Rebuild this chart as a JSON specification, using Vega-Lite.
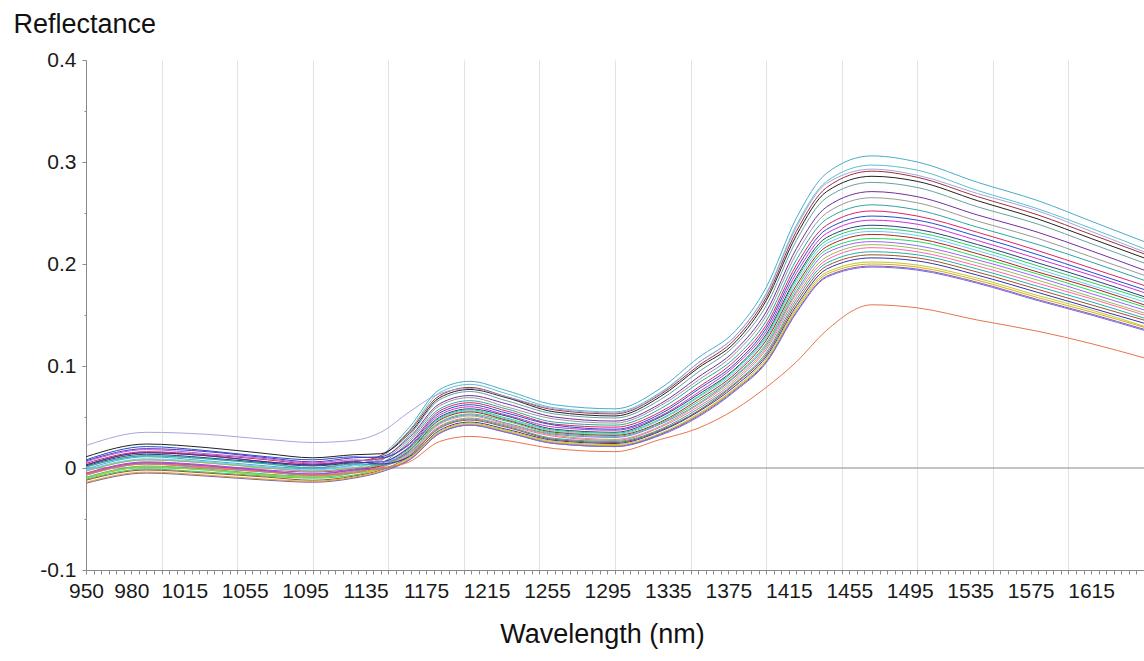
{
"$schema": "https://vega.github.io/schema/vega-lite/v6.json",
"width": 1058, "height": 510,
"autosize": {"type": "none"},
"padding": {"left": 86, "top": 60, "right": 0, "bottom": 91},
"background": "white",
"config": {"view": {"stroke": null}, "font": "Liberation Sans"},
"layer": [
{"data": {"values": [{"r": 0}]},
 "mark": {"type": "rule", "color": "#8a8a8a", "strokeWidth": 1},
 "encoding": {"y": {"field": "r", "type": "quantitative", "scale": {"domain": [-0.1, 0.4], "nice": false, "zero": false}}}},
{"data": {"values": [
{"s":1,"w":950,"r":-0.001},{"s":1,"w":990,"r":0.011},{"s":1,"w":1030,"r":0.007},{"s":1,"w":1070,"r":0.002},{"s":1,"w":1100,"r":-0.001},{"s":1,"w":1127,"r":0.003},{"s":1,"w":1145,"r":0.012},{"s":1,"w":1164,"r":0.040},{"s":1,"w":1184,"r":0.077},{"s":1,"w":1204,"r":0.085},{"s":1,"w":1228,"r":0.076},{"s":1,"w":1260,"r":0.062},{"s":1,"w":1300,"r":0.058},{"s":1,"w":1330,"r":0.078},{"s":1,"w":1355,"r":0.108},{"s":1,"w":1380,"r":0.135},{"s":1,"w":1400,"r":0.177},{"s":1,"w":1420,"r":0.245},{"s":1,"w":1440,"r":0.289},{"s":1,"w":1470,"r":0.306},{"s":1,"w":1500,"r":0.300},{"s":1,"w":1540,"r":0.280},{"s":1,"w":1580,"r":0.262},{"s":1,"w":1615,"r":0.242},{"s":1,"w":1650,"r":0.222},
{"s":2,"w":950,"r":-0.003},{"s":2,"w":990,"r":0.008},{"s":2,"w":1030,"r":0.005},{"s":2,"w":1070,"r":0.000},{"s":2,"w":1100,"r":-0.003},{"s":2,"w":1127,"r":0.000},{"s":2,"w":1145,"r":0.010},{"s":2,"w":1164,"r":0.037},{"s":2,"w":1184,"r":0.074},{"s":2,"w":1204,"r":0.082},{"s":2,"w":1228,"r":0.073},{"s":2,"w":1260,"r":0.059},{"s":2,"w":1300,"r":0.055},{"s":2,"w":1330,"r":0.074},{"s":2,"w":1355,"r":0.103},{"s":2,"w":1380,"r":0.130},{"s":2,"w":1400,"r":0.171},{"s":2,"w":1420,"r":0.238},{"s":2,"w":1440,"r":0.281},{"s":2,"w":1470,"r":0.297},{"s":2,"w":1500,"r":0.292},{"s":2,"w":1540,"r":0.272},{"s":2,"w":1580,"r":0.254},{"s":2,"w":1615,"r":0.235},{"s":2,"w":1650,"r":0.215},
{"s":3,"w":950,"r":0.003},{"s":3,"w":990,"r":0.015},{"s":3,"w":1030,"r":0.012},{"s":3,"w":1070,"r":0.006},{"s":3,"w":1100,"r":0.003},{"s":3,"w":1127,"r":0.006},{"s":3,"w":1145,"r":0.012},{"s":3,"w":1164,"r":0.036},{"s":3,"w":1184,"r":0.071},{"s":3,"w":1204,"r":0.079},{"s":3,"w":1228,"r":0.070},{"s":3,"w":1260,"r":0.057},{"s":3,"w":1300,"r":0.053},{"s":3,"w":1330,"r":0.072},{"s":3,"w":1355,"r":0.100},{"s":3,"w":1380,"r":0.127},{"s":3,"w":1400,"r":0.167},{"s":3,"w":1420,"r":0.232},{"s":3,"w":1440,"r":0.275},{"s":3,"w":1470,"r":0.291},{"s":3,"w":1500,"r":0.285},{"s":3,"w":1540,"r":0.266},{"s":3,"w":1580,"r":0.248},{"s":3,"w":1615,"r":0.229},{"s":3,"w":1650,"r":0.210},
{"s":4,"w":950,"r":0.011},{"s":4,"w":990,"r":0.0235},{"s":4,"w":1030,"r":0.020},{"s":4,"w":1070,"r":0.014},{"s":4,"w":1100,"r":0.010},{"s":4,"w":1127,"r":0.013},{"s":4,"w":1145,"r":0.014},{"s":4,"w":1164,"r":0.034},{"s":4,"w":1184,"r":0.069},{"s":4,"w":1204,"r":0.077},{"s":4,"w":1228,"r":0.069},{"s":4,"w":1260,"r":0.055},{"s":4,"w":1300,"r":0.051},{"s":4,"w":1330,"r":0.070},{"s":4,"w":1355,"r":0.098},{"s":4,"w":1380,"r":0.124},{"s":4,"w":1400,"r":0.164},{"s":4,"w":1420,"r":0.228},{"s":4,"w":1440,"r":0.271},{"s":4,"w":1470,"r":0.286},{"s":4,"w":1500,"r":0.281},{"s":4,"w":1540,"r":0.262},{"s":4,"w":1580,"r":0.244},{"s":4,"w":1615,"r":0.225},{"s":4,"w":1650,"r":0.206},
{"s":5,"w":950,"r":-0.007},{"s":5,"w":990,"r":0.004},{"s":5,"w":1030,"r":0.000},{"s":5,"w":1070,"r":-0.004},{"s":5,"w":1100,"r":-0.007},{"s":5,"w":1127,"r":-0.003},{"s":5,"w":1145,"r":0.007},{"s":5,"w":1164,"r":0.032},{"s":5,"w":1184,"r":0.067},{"s":5,"w":1204,"r":0.075},{"s":5,"w":1228,"r":0.066},{"s":5,"w":1260,"r":0.053},{"s":5,"w":1300,"r":0.049},{"s":5,"w":1330,"r":0.067},{"s":5,"w":1355,"r":0.094},{"s":5,"w":1380,"r":0.121},{"s":5,"w":1400,"r":0.159},{"s":5,"w":1420,"r":0.223},{"s":5,"w":1440,"r":0.265},{"s":5,"w":1470,"r":0.280},{"s":5,"w":1500,"r":0.275},{"s":5,"w":1540,"r":0.256},{"s":5,"w":1580,"r":0.239},{"s":5,"w":1615,"r":0.220},{"s":5,"w":1650,"r":0.201},
{"s":6,"w":950,"r":0.007},{"s":6,"w":990,"r":0.019},{"s":6,"w":1030,"r":0.016},{"s":6,"w":1070,"r":0.010},{"s":6,"w":1100,"r":0.006},{"s":6,"w":1127,"r":0.010},{"s":6,"w":1145,"r":0.011},{"s":6,"w":1164,"r":0.030},{"s":6,"w":1184,"r":0.063},{"s":6,"w":1204,"r":0.071},{"s":6,"w":1228,"r":0.063},{"s":6,"w":1260,"r":0.050},{"s":6,"w":1300,"r":0.046},{"s":6,"w":1330,"r":0.063},{"s":6,"w":1355,"r":0.089},{"s":6,"w":1380,"r":0.116},{"s":6,"w":1400,"r":0.153},{"s":6,"w":1420,"r":0.215},{"s":6,"w":1440,"r":0.256},{"s":6,"w":1470,"r":0.271},{"s":6,"w":1500,"r":0.266},{"s":6,"w":1540,"r":0.248},{"s":6,"w":1580,"r":0.231},{"s":6,"w":1615,"r":0.213},{"s":6,"w":1650,"r":0.194},
{"s":7,"w":950,"r":0.001},{"s":7,"w":990,"r":0.012},{"s":7,"w":1030,"r":0.009},{"s":7,"w":1070,"r":0.004},{"s":7,"w":1100,"r":0.000},{"s":7,"w":1127,"r":0.004},{"s":7,"w":1145,"r":0.008},{"s":7,"w":1164,"r":0.028},{"s":7,"w":1184,"r":0.061},{"s":7,"w":1204,"r":0.069},{"s":7,"w":1228,"r":0.060},{"s":7,"w":1260,"r":0.048},{"s":7,"w":1300,"r":0.044},{"s":7,"w":1330,"r":0.061},{"s":7,"w":1355,"r":0.086},{"s":7,"w":1380,"r":0.113},{"s":7,"w":1400,"r":0.149},{"s":7,"w":1420,"r":0.210},{"s":7,"w":1440,"r":0.250},{"s":7,"w":1470,"r":0.265},{"s":7,"w":1500,"r":0.260},{"s":7,"w":1540,"r":0.242},{"s":7,"w":1580,"r":0.225},{"s":7,"w":1615,"r":0.207},{"s":7,"w":1650,"r":0.189},
{"s":8,"w":950,"r":-0.010},{"s":8,"w":990,"r":0.001},{"s":8,"w":1030,"r":-0.002},{"s":8,"w":1070,"r":-0.007},{"s":8,"w":1100,"r":-0.009},{"s":8,"w":1127,"r":-0.005},{"s":8,"w":1145,"r":0.004},{"s":8,"w":1164,"r":0.026},{"s":8,"w":1184,"r":0.058},{"s":8,"w":1204,"r":0.066},{"s":8,"w":1228,"r":0.058},{"s":8,"w":1260,"r":0.045},{"s":8,"w":1300,"r":0.042},{"s":8,"w":1330,"r":0.058},{"s":8,"w":1355,"r":0.083},{"s":8,"w":1380,"r":0.109},{"s":8,"w":1400,"r":0.144},{"s":8,"w":1420,"r":0.204},{"s":8,"w":1440,"r":0.244},{"s":8,"w":1470,"r":0.258},{"s":8,"w":1500,"r":0.253},{"s":8,"w":1540,"r":0.236},{"s":8,"w":1580,"r":0.219},{"s":8,"w":1615,"r":0.202},{"s":8,"w":1650,"r":0.184},
{"s":9,"w":950,"r":0.0045},{"s":9,"w":990,"r":0.016},{"s":9,"w":1030,"r":0.013},{"s":9,"w":1070,"r":0.008},{"s":9,"w":1100,"r":0.004},{"s":9,"w":1127,"r":0.007},{"s":9,"w":1145,"r":0.009},{"s":9,"w":1164,"r":0.024},{"s":9,"w":1184,"r":0.056},{"s":9,"w":1204,"r":0.064},{"s":9,"w":1228,"r":0.056},{"s":9,"w":1260,"r":0.043},{"s":9,"w":1300,"r":0.040},{"s":9,"w":1330,"r":0.055},{"s":9,"w":1355,"r":0.079},{"s":9,"w":1380,"r":0.106},{"s":9,"w":1400,"r":0.140},{"s":9,"w":1420,"r":0.199},{"s":9,"w":1440,"r":0.238},{"s":9,"w":1470,"r":0.252},{"s":9,"w":1500,"r":0.247},{"s":9,"w":1540,"r":0.231},{"s":9,"w":1580,"r":0.213},{"s":9,"w":1615,"r":0.196},{"s":9,"w":1650,"r":0.179},
{"s":10,"w":950,"r":0.008},{"s":10,"w":990,"r":0.021},{"s":10,"w":1030,"r":0.017},{"s":10,"w":1070,"r":0.011},{"s":10,"w":1100,"r":0.008},{"s":10,"w":1127,"r":0.011},{"s":10,"w":1145,"r":0.010},{"s":10,"w":1164,"r":0.023},{"s":10,"w":1184,"r":0.054},{"s":10,"w":1204,"r":0.062},{"s":10,"w":1228,"r":0.054},{"s":10,"w":1260,"r":0.042},{"s":10,"w":1300,"r":0.038},{"s":10,"w":1330,"r":0.053},{"s":10,"w":1355,"r":0.077},{"s":10,"w":1380,"r":0.103},{"s":10,"w":1400,"r":0.137},{"s":10,"w":1420,"r":0.195},{"s":10,"w":1440,"r":0.234},{"s":10,"w":1470,"r":0.247},{"s":10,"w":1500,"r":0.243},{"s":10,"w":1540,"r":0.227},{"s":10,"w":1580,"r":0.209},{"s":10,"w":1615,"r":0.192},{"s":10,"w":1650,"r":0.175},
{"s":11,"w":950,"r":-0.005},{"s":11,"w":990,"r":0.006},{"s":11,"w":1030,"r":0.003},{"s":11,"w":1070,"r":-0.002},{"s":11,"w":1100,"r":-0.004},{"s":11,"w":1127,"r":-0.001},{"s":11,"w":1145,"r":0.004},{"s":11,"w":1164,"r":0.021},{"s":11,"w":1184,"r":0.052},{"s":11,"w":1204,"r":0.060},{"s":11,"w":1228,"r":0.052},{"s":11,"w":1260,"r":0.040},{"s":11,"w":1300,"r":0.037},{"s":11,"w":1330,"r":0.051},{"s":11,"w":1355,"r":0.074},{"s":11,"w":1380,"r":0.101},{"s":11,"w":1400,"r":0.134},{"s":11,"w":1420,"r":0.191},{"s":11,"w":1440,"r":0.230},{"s":11,"w":1470,"r":0.243},{"s":11,"w":1500,"r":0.239},{"s":11,"w":1540,"r":0.223},{"s":11,"w":1580,"r":0.205},{"s":11,"w":1615,"r":0.189},{"s":11,"w":1650,"r":0.172},
{"s":12,"w":950,"r":0.002},{"s":12,"w":990,"r":0.0135},{"s":12,"w":1030,"r":0.010},{"s":12,"w":1070,"r":0.005},{"s":12,"w":1100,"r":0.002},{"s":12,"w":1127,"r":0.005},{"s":12,"w":1145,"r":0.006},{"s":12,"w":1164,"r":0.020},{"s":12,"w":1184,"r":0.050},{"s":12,"w":1204,"r":0.058},{"s":12,"w":1228,"r":0.051},{"s":12,"w":1260,"r":0.038},{"s":12,"w":1300,"r":0.035},{"s":12,"w":1330,"r":0.050},{"s":12,"w":1355,"r":0.072},{"s":12,"w":1380,"r":0.098},{"s":12,"w":1400,"r":0.131},{"s":12,"w":1420,"r":0.187},{"s":12,"w":1440,"r":0.226},{"s":12,"w":1470,"r":0.238},{"s":12,"w":1500,"r":0.234},{"s":12,"w":1540,"r":0.219},{"s":12,"w":1580,"r":0.201},{"s":12,"w":1615,"r":0.185},{"s":12,"w":1650,"r":0.168},
{"s":13,"w":950,"r":-0.009},{"s":13,"w":990,"r":0.002},{"s":13,"w":1030,"r":-0.001},{"s":13,"w":1070,"r":-0.006},{"s":13,"w":1100,"r":-0.008},{"s":13,"w":1127,"r":-0.004},{"s":13,"w":1145,"r":0.002},{"s":13,"w":1164,"r":0.019},{"s":13,"w":1184,"r":0.049},{"s":13,"w":1204,"r":0.057},{"s":13,"w":1228,"r":0.049},{"s":13,"w":1260,"r":0.037},{"s":13,"w":1300,"r":0.034},{"s":13,"w":1330,"r":0.048},{"s":13,"w":1355,"r":0.070},{"s":13,"w":1380,"r":0.097},{"s":13,"w":1400,"r":0.129},{"s":13,"w":1420,"r":0.185},{"s":13,"w":1440,"r":0.223},{"s":13,"w":1470,"r":0.235},{"s":13,"w":1500,"r":0.231},{"s":13,"w":1540,"r":0.216},{"s":13,"w":1580,"r":0.198},{"s":13,"w":1615,"r":0.182},{"s":13,"w":1650,"r":0.166},
{"s":14,"w":950,"r":-0.002},{"s":14,"w":990,"r":0.009},{"s":14,"w":1030,"r":0.006},{"s":14,"w":1070,"r":0.001},{"s":14,"w":1100,"r":-0.002},{"s":14,"w":1127,"r":0.002},{"s":14,"w":1145,"r":0.004},{"s":14,"w":1164,"r":0.018},{"s":14,"w":1184,"r":0.048},{"s":14,"w":1204,"r":0.056},{"s":14,"w":1228,"r":0.048},{"s":14,"w":1260,"r":0.036},{"s":14,"w":1300,"r":0.033},{"s":14,"w":1330,"r":0.047},{"s":14,"w":1355,"r":0.069},{"s":14,"w":1380,"r":0.095},{"s":14,"w":1400,"r":0.127},{"s":14,"w":1420,"r":0.182},{"s":14,"w":1440,"r":0.220},{"s":14,"w":1470,"r":0.232},{"s":14,"w":1500,"r":0.228},{"s":14,"w":1540,"r":0.213},{"s":14,"w":1580,"r":0.195},{"s":14,"w":1615,"r":0.179},{"s":14,"w":1650,"r":0.163},
{"s":15,"w":950,"r":-0.006},{"s":15,"w":990,"r":0.005},{"s":15,"w":1030,"r":0.002},{"s":15,"w":1070,"r":-0.003},{"s":15,"w":1100,"r":-0.006},{"s":15,"w":1127,"r":-0.002},{"s":15,"w":1145,"r":0.002},{"s":15,"w":1164,"r":0.017},{"s":15,"w":1184,"r":0.047},{"s":15,"w":1204,"r":0.055},{"s":15,"w":1228,"r":0.047},{"s":15,"w":1260,"r":0.035},{"s":15,"w":1300,"r":0.032},{"s":15,"w":1330,"r":0.045},{"s":15,"w":1355,"r":0.067},{"s":15,"w":1380,"r":0.093},{"s":15,"w":1400,"r":0.125},{"s":15,"w":1420,"r":0.179},{"s":15,"w":1440,"r":0.217},{"s":15,"w":1470,"r":0.229},{"s":15,"w":1500,"r":0.225},{"s":15,"w":1540,"r":0.210},{"s":15,"w":1580,"r":0.192},{"s":15,"w":1615,"r":0.177},{"s":15,"w":1650,"r":0.160},
{"s":16,"w":950,"r":-0.011},{"s":16,"w":990,"r":-0.001},{"s":16,"w":1030,"r":-0.004},{"s":16,"w":1070,"r":-0.008},{"s":16,"w":1100,"r":-0.010},{"s":16,"w":1127,"r":-0.007},{"s":16,"w":1145,"r":0.000},{"s":16,"w":1164,"r":0.016},{"s":16,"w":1184,"r":0.045},{"s":16,"w":1204,"r":0.053},{"s":16,"w":1228,"r":0.046},{"s":16,"w":1260,"r":0.034},{"s":16,"w":1300,"r":0.031},{"s":16,"w":1330,"r":0.044},{"s":16,"w":1355,"r":0.065},{"s":16,"w":1380,"r":0.091},{"s":16,"w":1400,"r":0.122},{"s":16,"w":1420,"r":0.176},{"s":16,"w":1440,"r":0.214},{"s":16,"w":1470,"r":0.225},{"s":16,"w":1500,"r":0.222},{"s":16,"w":1540,"r":0.207},{"s":16,"w":1580,"r":0.190},{"s":16,"w":1615,"r":0.174},{"s":16,"w":1650,"r":0.158},
{"s":17,"w":950,"r":0.006},{"s":17,"w":990,"r":0.018},{"s":17,"w":1030,"r":0.014},{"s":17,"w":1070,"r":0.009},{"s":17,"w":1100,"r":0.005},{"s":17,"w":1127,"r":0.008},{"s":17,"w":1145,"r":0.006},{"s":17,"w":1164,"r":0.015},{"s":17,"w":1184,"r":0.044},{"s":17,"w":1204,"r":0.052},{"s":17,"w":1228,"r":0.044},{"s":17,"w":1260,"r":0.033},{"s":17,"w":1300,"r":0.030},{"s":17,"w":1330,"r":0.043},{"s":17,"w":1355,"r":0.063},{"s":17,"w":1380,"r":0.090},{"s":17,"w":1400,"r":0.120},{"s":17,"w":1420,"r":0.173},{"s":17,"w":1440,"r":0.211},{"s":17,"w":1470,"r":0.222},{"s":17,"w":1500,"r":0.218},{"s":17,"w":1540,"r":0.204},{"s":17,"w":1580,"r":0.187},{"s":17,"w":1615,"r":0.171},{"s":17,"w":1650,"r":0.155},
{"s":18,"w":950,"r":-0.003},{"s":18,"w":990,"r":0.008},{"s":18,"w":1030,"r":0.005},{"s":18,"w":1070,"r":0.000},{"s":18,"w":1100,"r":-0.003},{"s":18,"w":1127,"r":0.000},{"s":18,"w":1145,"r":0.003},{"s":18,"w":1164,"r":0.014},{"s":18,"w":1184,"r":0.043},{"s":18,"w":1204,"r":0.051},{"s":18,"w":1228,"r":0.043},{"s":18,"w":1260,"r":0.032},{"s":18,"w":1300,"r":0.028},{"s":18,"w":1330,"r":0.041},{"s":18,"w":1355,"r":0.062},{"s":18,"w":1380,"r":0.088},{"s":18,"w":1400,"r":0.118},{"s":18,"w":1420,"r":0.171},{"s":18,"w":1440,"r":0.207},{"s":18,"w":1470,"r":0.219},{"s":18,"w":1500,"r":0.215},{"s":18,"w":1540,"r":0.201},{"s":18,"w":1580,"r":0.184},{"s":18,"w":1615,"r":0.168},{"s":18,"w":1650,"r":0.152},
{"s":19,"w":950,"r":-0.007},{"s":19,"w":990,"r":0.004},{"s":19,"w":1030,"r":0.000},{"s":19,"w":1070,"r":-0.004},{"s":19,"w":1100,"r":-0.007},{"s":19,"w":1127,"r":-0.003},{"s":19,"w":1145,"r":0.001},{"s":19,"w":1164,"r":0.013},{"s":19,"w":1184,"r":0.041},{"s":19,"w":1204,"r":0.049},{"s":19,"w":1228,"r":0.042},{"s":19,"w":1260,"r":0.031},{"s":19,"w":1300,"r":0.027},{"s":19,"w":1330,"r":0.040},{"s":19,"w":1355,"r":0.060},{"s":19,"w":1380,"r":0.086},{"s":19,"w":1400,"r":0.116},{"s":19,"w":1420,"r":0.168},{"s":19,"w":1440,"r":0.204},{"s":19,"w":1470,"r":0.216},{"s":19,"w":1500,"r":0.212},{"s":19,"w":1540,"r":0.198},{"s":19,"w":1580,"r":0.181},{"s":19,"w":1615,"r":0.166},{"s":19,"w":1650,"r":0.150},
{"s":20,"w":950,"r":0.001},{"s":20,"w":990,"r":0.012},{"s":20,"w":1030,"r":0.009},{"s":20,"w":1070,"r":0.004},{"s":20,"w":1100,"r":0.000},{"s":20,"w":1127,"r":0.004},{"s":20,"w":1145,"r":0.003},{"s":20,"w":1164,"r":0.012},{"s":20,"w":1184,"r":0.040},{"s":20,"w":1204,"r":0.048},{"s":20,"w":1228,"r":0.041},{"s":20,"w":1260,"r":0.029},{"s":20,"w":1300,"r":0.026},{"s":20,"w":1330,"r":0.038},{"s":20,"w":1355,"r":0.058},{"s":20,"w":1380,"r":0.084},{"s":20,"w":1400,"r":0.113},{"s":20,"w":1420,"r":0.165},{"s":20,"w":1440,"r":0.201},{"s":20,"w":1470,"r":0.212},{"s":20,"w":1500,"r":0.209},{"s":20,"w":1540,"r":0.195},{"s":20,"w":1580,"r":0.178},{"s":20,"w":1615,"r":0.163},{"s":20,"w":1650,"r":0.147},
{"s":21,"w":950,"r":-0.012},{"s":21,"w":990,"r":-0.002},{"s":21,"w":1030,"r":-0.005},{"s":21,"w":1070,"r":-0.009},{"s":21,"w":1100,"r":-0.012},{"s":21,"w":1127,"r":-0.008},{"s":21,"w":1145,"r":-0.002},{"s":21,"w":1164,"r":0.0115},{"s":21,"w":1184,"r":0.039},{"s":21,"w":1204,"r":0.047},{"s":21,"w":1228,"r":0.040},{"s":21,"w":1260,"r":0.028},{"s":21,"w":1300,"r":0.025},{"s":21,"w":1330,"r":0.037},{"s":21,"w":1355,"r":0.056},{"s":21,"w":1380,"r":0.083},{"s":21,"w":1400,"r":0.111},{"s":21,"w":1420,"r":0.162},{"s":21,"w":1440,"r":0.198},{"s":21,"w":1470,"r":0.209},{"s":21,"w":1500,"r":0.206},{"s":21,"w":1540,"r":0.192},{"s":21,"w":1580,"r":0.175},{"s":21,"w":1615,"r":0.160},{"s":21,"w":1650,"r":0.145},
{"s":22,"w":950,"r":0.003},{"s":22,"w":990,"r":0.015},{"s":22,"w":1030,"r":0.012},{"s":22,"w":1070,"r":0.006},{"s":22,"w":1100,"r":0.003},{"s":22,"w":1127,"r":0.006},{"s":22,"w":1145,"r":0.004},{"s":22,"w":1164,"r":0.011},{"s":22,"w":1184,"r":0.037},{"s":22,"w":1204,"r":0.045},{"s":22,"w":1228,"r":0.038},{"s":22,"w":1260,"r":0.027},{"s":22,"w":1300,"r":0.024},{"s":22,"w":1330,"r":0.036},{"s":22,"w":1355,"r":0.055},{"s":22,"w":1380,"r":0.081},{"s":22,"w":1400,"r":0.109},{"s":22,"w":1420,"r":0.159},{"s":22,"w":1440,"r":0.195},{"s":22,"w":1470,"r":0.206},{"s":22,"w":1500,"r":0.203},{"s":22,"w":1540,"r":0.189},{"s":22,"w":1580,"r":0.172},{"s":22,"w":1615,"r":0.157},{"s":22,"w":1650,"r":0.142},
{"s":23,"w":950,"r":-0.010},{"s":23,"w":990,"r":0.001},{"s":23,"w":1030,"r":-0.002},{"s":23,"w":1070,"r":-0.007},{"s":23,"w":1100,"r":-0.009},{"s":23,"w":1127,"r":-0.005},{"s":23,"w":1145,"r":-0.0015},{"s":23,"w":1164,"r":0.010},{"s":23,"w":1184,"r":0.036},{"s":23,"w":1204,"r":0.044},{"s":23,"w":1228,"r":0.037},{"s":23,"w":1260,"r":0.026},{"s":23,"w":1300,"r":0.023},{"s":23,"w":1330,"r":0.034},{"s":23,"w":1355,"r":0.053},{"s":23,"w":1380,"r":0.079},{"s":23,"w":1400,"r":0.107},{"s":23,"w":1420,"r":0.157},{"s":23,"w":1440,"r":0.192},{"s":23,"w":1470,"r":0.202},{"s":23,"w":1500,"r":0.199},{"s":23,"w":1540,"r":0.186},{"s":23,"w":1580,"r":0.169},{"s":23,"w":1615,"r":0.155},{"s":23,"w":1650,"r":0.139},
{"s":24,"w":950,"r":-0.014},{"s":24,"w":990,"r":-0.004},{"s":24,"w":1030,"r":-0.007},{"s":24,"w":1070,"r":-0.011},{"s":24,"w":1100,"r":-0.013},{"s":24,"w":1127,"r":-0.009},{"s":24,"w":1145,"r":-0.003},{"s":24,"w":1164,"r":0.009},{"s":24,"w":1184,"r":0.035},{"s":24,"w":1204,"r":0.043},{"s":24,"w":1228,"r":0.036},{"s":24,"w":1260,"r":0.025},{"s":24,"w":1300,"r":0.022},{"s":24,"w":1330,"r":0.033},{"s":24,"w":1355,"r":0.052},{"s":24,"w":1380,"r":0.078},{"s":24,"w":1400,"r":0.105},{"s":24,"w":1420,"r":0.155},{"s":24,"w":1440,"r":0.190},{"s":24,"w":1470,"r":0.200},{"s":24,"w":1500,"r":0.197},{"s":24,"w":1540,"r":0.184},{"s":24,"w":1580,"r":0.167},{"s":24,"w":1615,"r":0.153},{"s":24,"w":1650,"r":0.138},
{"s":25,"w":950,"r":-0.015},{"s":25,"w":990,"r":-0.005},{"s":25,"w":1030,"r":-0.008},{"s":25,"w":1070,"r":-0.012},{"s":25,"w":1100,"r":-0.014},{"s":25,"w":1127,"r":-0.010},{"s":25,"w":1145,"r":-0.004},{"s":25,"w":1164,"r":0.008},{"s":25,"w":1184,"r":0.034},{"s":25,"w":1204,"r":0.042},{"s":25,"w":1228,"r":0.035},{"s":25,"w":1260,"r":0.024},{"s":25,"w":1300,"r":0.021},{"s":25,"w":1330,"r":0.033},{"s":25,"w":1355,"r":0.051},{"s":25,"w":1380,"r":0.077},{"s":25,"w":1400,"r":0.104},{"s":25,"w":1420,"r":0.153},{"s":25,"w":1440,"r":0.188},{"s":25,"w":1470,"r":0.198},{"s":25,"w":1500,"r":0.195},{"s":25,"w":1540,"r":0.182},{"s":25,"w":1580,"r":0.165},{"s":25,"w":1615,"r":0.151},{"s":25,"w":1650,"r":0.136},
{"s":26,"w":950,"r":-0.006},{"s":26,"w":990,"r":0.005},{"s":26,"w":1030,"r":0.002},{"s":26,"w":1070,"r":-0.003},{"s":26,"w":1100,"r":-0.006},{"s":26,"w":1127,"r":-0.002},{"s":26,"w":1145,"r":-0.001},{"s":26,"w":1164,"r":0.008},{"s":26,"w":1184,"r":0.034},{"s":26,"w":1204,"r":0.042},{"s":26,"w":1228,"r":0.035},{"s":26,"w":1260,"r":0.024},{"s":26,"w":1300,"r":0.021},{"s":26,"w":1330,"r":0.032},{"s":26,"w":1355,"r":0.050},{"s":26,"w":1380,"r":0.076},{"s":26,"w":1400,"r":0.103},{"s":26,"w":1420,"r":0.152},{"s":26,"w":1440,"r":0.187},{"s":26,"w":1470,"r":0.197},{"s":26,"w":1500,"r":0.194},{"s":26,"w":1540,"r":0.181},{"s":26,"w":1580,"r":0.164},{"s":26,"w":1615,"r":0.150},{"s":26,"w":1650,"r":0.135},
{"s":27,"w":950,"r":-0.006},{"s":27,"w":990,"r":0.004},{"s":27,"w":1030,"r":0.001},{"s":27,"w":1070,"r":-0.004},{"s":27,"w":1100,"r":-0.007},{"s":27,"w":1127,"r":-0.005},{"s":27,"w":1145,"r":0.000},{"s":27,"w":1164,"r":0.006},{"s":27,"w":1184,"r":0.026},{"s":27,"w":1204,"r":0.031},{"s":27,"w":1228,"r":0.027},{"s":27,"w":1260,"r":0.019},{"s":27,"w":1300,"r":0.016},{"s":27,"w":1330,"r":0.028},{"s":27,"w":1355,"r":0.039},{"s":27,"w":1380,"r":0.058},{"s":27,"w":1400,"r":0.079},{"s":27,"w":1420,"r":0.104},{"s":27,"w":1440,"r":0.135},{"s":27,"w":1470,"r":0.160},{"s":27,"w":1500,"r":0.157},{"s":27,"w":1540,"r":0.145},{"s":27,"w":1580,"r":0.134},{"s":27,"w":1615,"r":0.122},{"s":27,"w":1650,"r":0.108},
{"s":28,"w":950,"r":0.022},{"s":28,"w":990,"r":0.035},{"s":28,"w":1030,"r":0.033},{"s":28,"w":1070,"r":0.028},{"s":28,"w":1100,"r":0.025},{"s":28,"w":1127,"r":0.027},{"s":28,"w":1145,"r":0.035},{"s":28,"w":1164,"r":0.055},{"s":28,"w":1184,"r":0.073},{"s":28,"w":1204,"r":0.078},{"s":28,"w":1228,"r":0.070},{"s":28,"w":1260,"r":0.058},{"s":28,"w":1300,"r":0.054},{"s":28,"w":1330,"r":0.073},{"s":28,"w":1355,"r":0.103},{"s":28,"w":1380,"r":0.130},{"s":28,"w":1400,"r":0.170},{"s":28,"w":1420,"r":0.236},{"s":28,"w":1440,"r":0.279},{"s":28,"w":1470,"r":0.293},{"s":28,"w":1500,"r":0.287},{"s":28,"w":1540,"r":0.269},{"s":28,"w":1580,"r":0.252},{"s":28,"w":1615,"r":0.232},{"s":28,"w":1650,"r":0.212}
]},
 "mark": {"type": "line", "strokeWidth": 1, "interpolate": "monotone", "clip": true},
 "encoding": {
  "x": {"field": "w", "type": "quantitative",
   "scale": {"domain": [950, 1650], "nice": false, "zero": false},
   "axis": {"title": "Wavelength (nm)", "tickCount": 140, "format": "d",
    "labelExpr": "indexof([950,980,1015,1055,1095,1135,1175,1215,1255,1295,1335,1375,1415,1455,1495,1535,1575,1615], datum.value) >= 0 ? datum.label : ''",
    "labelOverlap": false, "labelFlush": false, "labelFontSize": 21, "labelColor": "#1a1a1a",
    "labelBaseline": "alphabetic", "labelPadding": 23,
    "tickSize": 4, "tickColor": "#8c8c8c", "domainColor": "#888888",
    "grid": true, "gridColor": "#e2e2e2",
    "gridOpacity": {"condition": {"test": "datum.value % 50 === 0 && datum.value > 960 && datum.value < 1640", "value": 1}, "value": 0},
    "titleFontSize": 27, "titleFontWeight": "normal", "titleColor": "#111111",
    "titleX": 516, "titleY": 72, "titleBaseline": "alphabetic"}},
  "y": {"field": "r", "type": "quantitative",
   "scale": {"domain": [-0.1, 0.4], "nice": false, "zero": false},
   "axis": {"values": [-0.1, -0.05, 0, 0.05, 0.1, 0.15, 0.2, 0.25, 0.3, 0.35, 0.4],
    "grid": false, "title": "Reflectance", "titleAngle": 0, "titleX": -73, "titleY": -28,
    "titleAlign": "left", "titleBaseline": "alphabetic", "titleFontSize": 27, "titleFontWeight": "normal", "titleColor": "#111111",
    "labelExpr": "datum.value < -0.09 ? '-0.1' : (abs(round(datum.value*100)%10)==0 ? (datum.value==0 ? '0' : format(datum.value,'.1f')) : '')",
    "labelFontSize": 21, "labelColor": "#1a1a1a", "labelPadding": 6,
    "tickSize": {"condition": {"test": "abs(round(datum.value*100)%10)==0", "value": 4}, "value": 2},
    "tickColor": "#8c8c8c", "domainColor": "#888888"}},
  "color": {"field": "s", "type": "nominal", "legend": null,
   "scale": {"domain": [1,2,3,4,5,6,7,8,9,10,11,12,13,14,15,16,17,18,19,20,21,22,23,24,25,26,27,28],
    "range": ["#4bacc6","#5cc1c9","#a0303a","#222222","#6aa0a0","#7030a0","#999999","#2ca6a4","#e0245e","#1f4fd0","#cc33cc","#264478","#33cc66","#66ccff","#b22222","#22dd55","#9966ff","#9bbb59","#ff66aa","#20b2aa","#a0522d","#3333aa","#b8cc33","#e6a817","#8064a2","#7b68ee","#e8744a","#a9a3e0"]}}
 }}
]
}
